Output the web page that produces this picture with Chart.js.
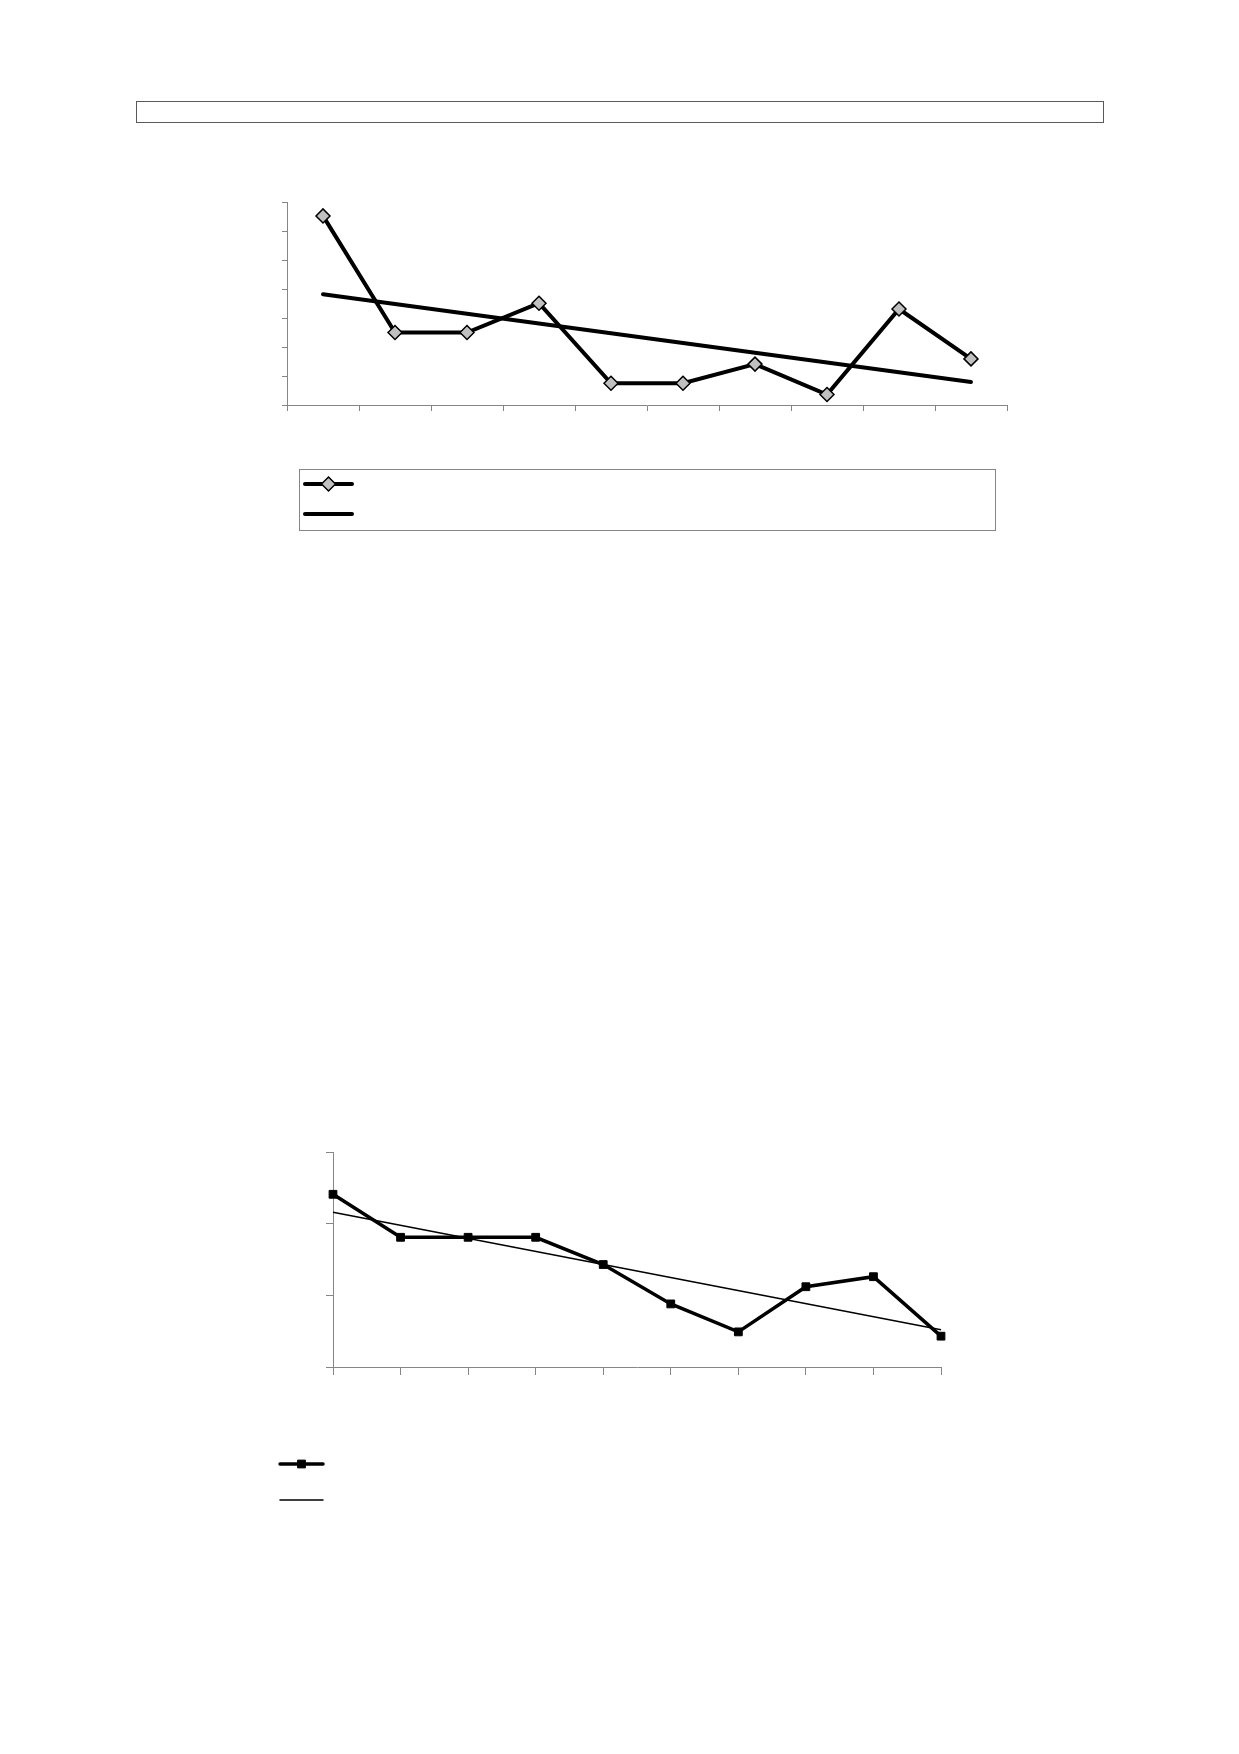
<!DOCTYPE html>
<html>
<head>
<meta charset="utf-8">
<script src="https://cdn.jsdelivr.net/npm/chart.js@4"></script>
<style>
  html, body { margin: 0; padding: 0; background: #ffffff; }
  body { position: relative; width: 1239px; height: 1754px; overflow: hidden; font-family: "Liberation Sans", Arial, sans-serif; }
  #titleBox { position: absolute; left: 136px; top: 101px; width: 968px; height: 22px; border: 1.5px solid #5a5a5a; box-sizing: border-box; }
  #legendBox1 { position: absolute; left: 299px; top: 469px; width: 697px; height: 62px; border: 1px solid #858585; box-sizing: border-box; }
  canvas { position: absolute; left: 0; }
  #c1 { top: 0; }
  #c2 { top: 1100px; }
</style>
</head>
<body>
<div id="titleBox"></div>
<div id="legendBox1"></div>
<canvas id="c1" width="1239" height="560" style="width:1239px;height:560px"></canvas>
<canvas id="c2" width="1239" height="560" style="width:1239px;height:560px"></canvas>
<script>
// ---- Chart 1 data ----
const categories1 = ["", "", "", "", "", "", "", "", "", ""];
const series1 = [6.52, 2.50, 2.50, 3.51, 0.75, 0.75, 1.41, 0.36, 3.31, 1.59];
const trend1 = [3.82, null, null, null, null, null, null, null, null, 0.79];
const yTicks1 = [0, 1, 2, 3, 4, 5, 6, 7];

// ---- Chart 2 data ----
const categories2 = ["", "", "", "", "", "", "", "", "", ""];
const series2 = [2.41, 1.81, 1.81, 1.81, 1.43, 0.88, 0.49, 1.12, 1.26, 0.43];
const trend2 = [2.16, null, null, null, null, null, null, null, null, 0.52];
const yTicks2 = [0, 1, 2, 3];

const AXIS = '#868686';

// legend drawn from the datasets' own styles
const lineLegend = {
  id: 'lineLegend',
  afterDraw(chart, args, opts) {
    const ctx = chart.ctx;
    chart.data.datasets.forEach((ds, i) => {
      const it = opts.items[i];
      if (!it) return;
      ctx.save();
      ctx.strokeStyle = ds.borderColor;
      ctx.lineWidth = ds.borderWidth;
      ctx.lineCap = 'round';
      ctx.beginPath();
      ctx.moveTo(it.x1, it.y);
      ctx.lineTo(it.x2, it.y);
      ctx.stroke();
      ctx.restore();
      if (ds.pointRadius > 0) {
        ctx.save();
        ctx.fillStyle = ds.pointBackgroundColor;
        ctx.strokeStyle = ds.pointBorderColor;
        ctx.lineWidth = ds.pointBorderWidth;
        Chart.helpers.drawPoint(ctx, { pointStyle: ds.pointStyle, radius: ds.pointRadius, rotation: 0, borderWidth: ds.pointBorderWidth }, (it.x1 + it.x2) / 2, it.y);
        ctx.restore();
      }
    });
  }
};

function axisOpts(tickLen, extra) {
  return Object.assign({
    border: { display: true, color: AXIS, width: 1 },
    grid: { display: true, drawOnChartArea: false, drawTicks: true, tickLength: tickLen, color: AXIS, tickColor: AXIS, lineWidth: 1 },
    ticks: { display: false }
  }, extra);
}

new Chart(document.getElementById('c1'), {
  type: 'line',
  data: {
    labels: categories1,
    datasets: [
      {
        data: series1,
        borderColor: '#000000', borderWidth: 4,
        pointStyle: 'rectRot', pointRadius: 7, pointHoverRadius: 7,
        pointBackgroundColor: '#c0c0c0', pointBorderColor: '#000000', pointBorderWidth: 1.5,
        tension: 0, fill: false, order: 1
      },
      {
        data: trend1, spanGaps: true,
        borderColor: '#000000', borderWidth: 4, borderCapStyle: 'round',
        pointRadius: 0, pointHoverRadius: 0,
        tension: 0, fill: false, order: 2
      }
    ]
  },
  options: {
    responsive: false, maintainAspectRatio: false, animation: false, devicePixelRatio: 1,
    layout: { padding: { left: 282, right: 232, top: 202, bottom: 149 } },
    plugins: {
      legend: { display: false }, tooltip: { enabled: false }, title: { display: false },
      lineLegend: { items: [ { x1: 305, x2: 352, y: 484 }, { x1: 305, x2: 352, y: 514 } ] }
    },
    scales: {
      x: axisOpts(6, { type: 'category', offset: true, grid: { display: true, offset: true, drawOnChartArea: false, drawTicks: true, tickLength: 6, color: AXIS, tickColor: AXIS } }),
      y: axisOpts(5, { min: yTicks1[0], max: yTicks1[yTicks1.length - 1], afterBuildTicks: s => { s.ticks = yTicks1.map(v => ({ value: v })); } })
    }
  },
  plugins: [lineLegend]
});

new Chart(document.getElementById('c2'), {
  type: 'line',
  data: {
    labels: categories2,
    datasets: [
      {
        data: series2,
        borderColor: '#000000', borderWidth: 3.5,
        pointStyle: 'rect', pointRadius: 5.5, pointHoverRadius: 5.5,
        pointBackgroundColor: '#000000', pointBorderColor: '#000000', pointBorderWidth: 1,
        tension: 0, fill: false, order: 1
      },
      {
        data: trend2, spanGaps: true,
        borderColor: '#000000', borderWidth: 1.5,
        pointRadius: 0, pointHoverRadius: 0,
        tension: 0, fill: false, order: 2
      }
    ]
  },
  options: {
    responsive: false, maintainAspectRatio: false, animation: false, devicePixelRatio: 1,
    layout: { padding: { left: 326, right: 298, top: 52, bottom: 285 } },
    plugins: {
      legend: { display: false }, tooltip: { enabled: false }, title: { display: false },
      lineLegend: { items: [ { x1: 280, x2: 323, y: 364 }, { x1: 280, x2: 323, y: 400 } ] }
    },
    scales: {
      x: axisOpts(8, { type: 'category', offset: false }),
      y: axisOpts(7, { min: yTicks2[0], max: yTicks2[yTicks2.length - 1], afterBuildTicks: s => { s.ticks = yTicks2.map(v => ({ value: v })); } })
    }
  },
  plugins: [lineLegend]
});
</script>
</body>
</html>
